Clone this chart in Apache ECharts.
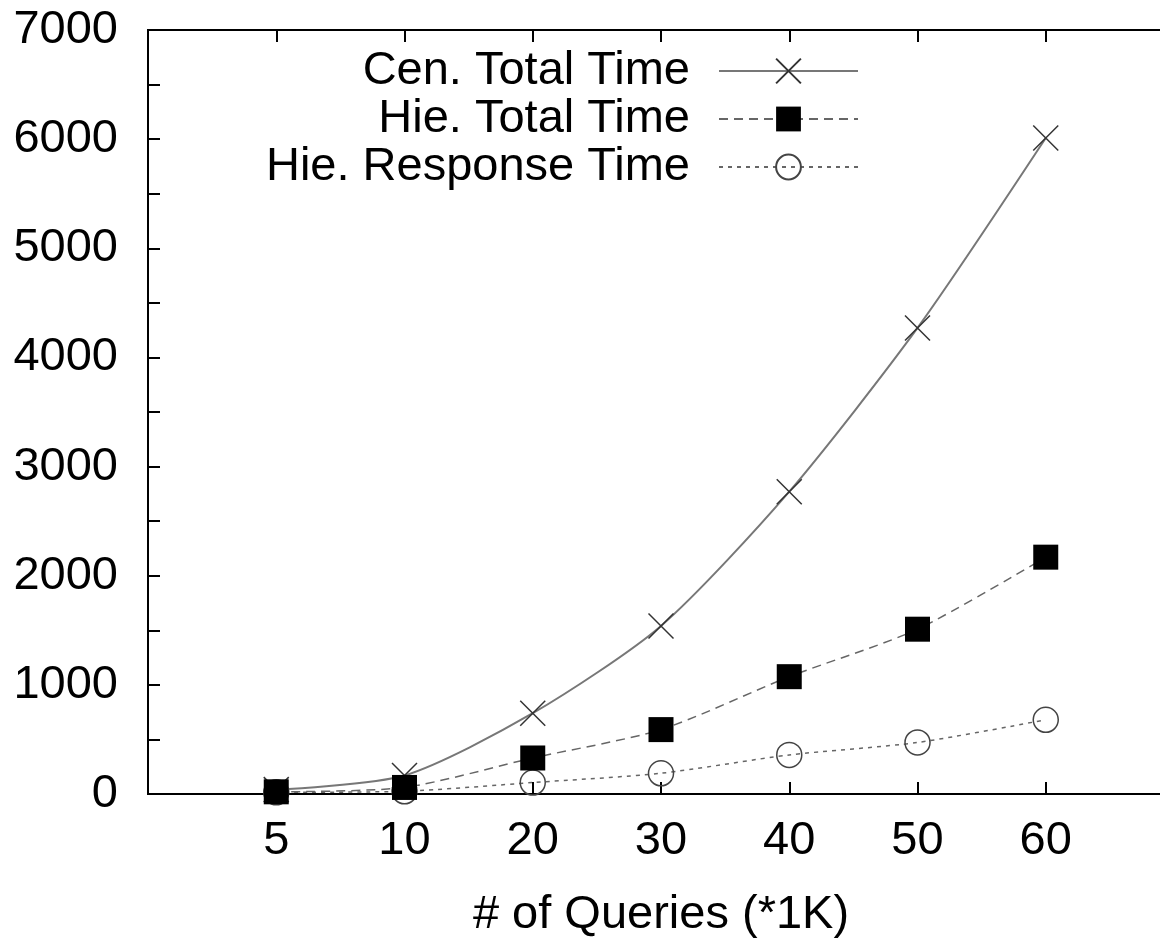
<html>
<head>
    <meta charset="utf-8" />
    <script src="https://cdn.jsdelivr.net/npm/echarts@6/dist/echarts.min.js"></script>
</head>
<body style="margin:0">
    <div id="main" style="width:1160px;height:938px;"></div>
    <script>
        // x categories (thousands of queries)
        var categories = ['5', '10', '20', '30', '40', '50', '60'];
        var cenTotal = [40, 170, 740, 1540, 2770, 4270, 6010];
        var hieTotal = [20, 60, 330, 590, 1075, 1510, 2170];
        var hieResponse = [15, 25, 105, 190, 358, 472, 680];
        var yTicks = [0, 1000, 2000, 3000, 4000, 5000, 6000, 7000];

        var FONT = 'Liberation Sans';
        var FS = 47;

        function toPoints(vals) {
            return vals.map(function (v, i) { return [i + 1, v]; });
        }

        var xAxisBase = {
            type: 'value',
            min: 0,
            max: categories.length + 1,
            interval: 1,
            axisLine: { lineStyle: { color: '#000', width: 2 } },
            axisTick: { inside: true, length: 12, lineStyle: { color: '#000', width: 2 } },
            splitLine: { show: false }
        };

        var myChart = echarts.init(document.getElementById('main'));
        var option = {
            animation: false,
            backgroundColor: '#fff',
            grid: {
                left: 148, top: 30, right: -14, bottom: 144,
                show: true, borderColor: '#000', borderWidth: 2,
                outerBoundsMode: 'none'
            },
            legend: [
                { data: ['Cen. Total Time'], top: 66 - 24 },
                { data: ['Hie. Total Time'], top: 114 - 24 },
                { data: ['Hie. Response Time'], top: 162 - 24 }
            ].map(function (l) {
                return Object.assign({
                    orient: 'vertical',
                    align: 'right',
                    right: 296,
                    itemWidth: 139,
                    itemHeight: 31,
                    textStyle: {
                        fontFamily: FONT, fontSize: FS, color: '#000',
                        padding: [0, 24, 0, 0], lineHeight: 48
                    }
                }, l);
            }),
            xAxis: [
                Object.assign({}, xAxisBase, {
                    position: 'bottom',
                    name: '# of Queries (*1K)',
                    nameLocation: 'middle',
                    nameGap: 98,
                    nameTextStyle: { fontFamily: FONT, fontSize: FS, color: '#000' },
                    axisLabel: {
                        fontFamily: FONT, fontSize: FS, color: '#000', margin: 24,
                        formatter: function (v) {
                            return (v >= 1 && v <= categories.length) ? categories[v - 1] : '';
                        }
                    }
                }),
                Object.assign({}, xAxisBase, {
                    position: 'top',
                    axisLabel: { show: false }
                })
            ],
            yAxis: {
                type: 'value',
                min: yTicks[0],
                max: yTicks[yTicks.length - 1],
                interval: 500,
                axisLine: { show: true, lineStyle: { color: '#000', width: 2 } },
                axisTick: { inside: true, length: 12, lineStyle: { color: '#000', width: 2 } },
                splitLine: { show: false },
                axisLabel: {
                    fontFamily: FONT, fontSize: FS, color: '#000', margin: 30,
                    formatter: function (v) {
                        return yTicks.indexOf(v) >= 0 ? String(v) : '';
                    }
                }
            },
            series: [
                {
                    name: 'Cen. Total Time',
                    type: 'line',
                    smooth: 0.25,
                    data: toPoints(cenTotal),
                    symbol: 'path://M0,0L10,10M10,0L0,10',
                    symbolSize: 25,
                    itemStyle: { color: 'rgba(0,0,0,0)', borderColor: '#333', borderWidth: 1.5 },
                    lineStyle: { color: '#777', width: 2, type: 'solid' },
                    z: 3
                },
                {
                    name: 'Hie. Total Time',
                    type: 'line',
                    smooth: 0.25,
                    data: toPoints(hieTotal),
                    symbol: 'rect',
                    symbolSize: 25,
                    itemStyle: { color: '#000', borderWidth: 0 },
                    lineStyle: { color: '#666', width: 1.5, type: [9, 6] },
                    z: 4
                },
                {
                    name: 'Hie. Response Time',
                    type: 'line',
                    smooth: 0.25,
                    data: toPoints(hieResponse),
                    symbol: 'circle',
                    symbolSize: 25,
                    itemStyle: { color: 'rgba(0,0,0,0)', borderColor: '#444', borderWidth: 1.5 },
                    lineStyle: { color: '#666', width: 1.5, type: [4, 5] },
                    z: 2
                }
            ]
        };
        myChart.setOption(option);
    </script>
</body>
</html>
